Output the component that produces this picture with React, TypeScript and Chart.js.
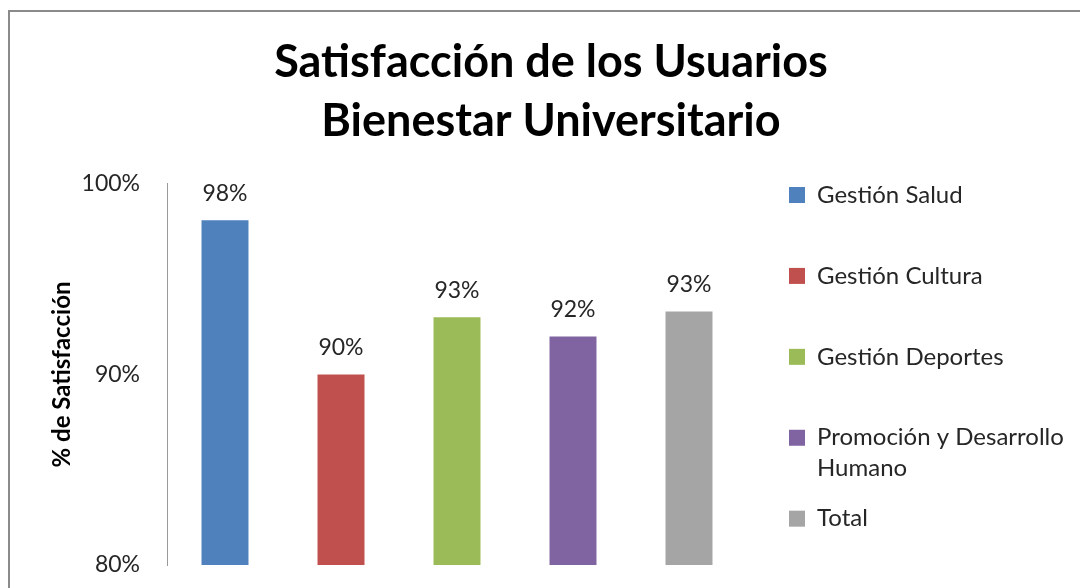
import React, { useEffect, useRef } from 'react';
import { Chart, registerables } from 'chart.js';

Chart.register(...registerables);

// ---- data ----
const categories = ['Gestión Salud', 'Gestión Cultura', 'Gestión Deportes', 'Promoción y Desarrollo Humano', 'Total'];
const legendLines: (string | string[])[] = [
  ['Gestión Salud', ''],
  ['Gestión Cultura', ''],
  ['Gestión Deportes', ''],
  ['Promoción y Desarrollo', 'Humano'],
  'Total',
];
const satisfaction = [98.1, 90, 93, 92, 93.3];
const barColors = ['#4F81BD', '#C0504D', '#9BBB59', '#8064A2', '#A5A5A5'];
const yMin = 80;
const yMax = 100;
const yStep = 10;
const titleLines = ['Satisfacción de los Usuarios', 'Bienestar Universitario'];
const yAxisTitle = '% de Satisfacción';

const FONT = 'Lato, "Open Sans", sans-serif';

const valueLabels = {
  id: 'valueLabels',
  afterDatasetsDraw(chart: any) {
    const { ctx } = chart;
    const meta = chart.getDatasetMeta(0);
    ctx.save();
    ctx.font = `23px ${FONT}`;
    ctx.fillStyle = '#262626';
    ctx.textAlign = 'center';
    ctx.textBaseline = 'middle';
    meta.data.forEach((bar: any, i: number) => {
      ctx.fillText(Math.round(satisfaction[i]) + '%', bar.x, bar.y - 27);
    });
    ctx.restore();
  },
};

export default function App() {
  const ref = useRef<HTMLCanvasElement>(null);
  useEffect(() => {
    if (!ref.current) return;
    const chart = new Chart(ref.current, {
      type: 'bar',
      data: {
        labels: categories,
        datasets: [
          {
            label: 'Satisfacción',
            data: satisfaction,
            backgroundColor: barColors,
            borderWidth: 0,
            barPercentage: 0.405,
            categoryPercentage: 1,
          },
        ],
      },
      options: {
        responsive: false,
        animation: false,
        devicePixelRatio: 1,
        layout: { padding: { left: 32, right: 10, top: 0, bottom: 23 } },
        scales: {
          x: { display: false },
          y: {
            min: yMin,
            max: yMax,
            position: 'left',
            grid: { display: false, drawTicks: false },
            border: { display: true, color: '#9a9a9a', width: 1 },
            ticks: {
              stepSize: yStep,
              padding: 27,
              color: '#262626',
              font: { family: FONT, size: 23 },
              callback: (v: any) => v + '%',
            },
            title: {
              display: true,
              text: yAxisTitle,
              color: '#000',
              font: { family: FONT, size: 24, weight: 'bold', lineHeight: 1.2 },
              padding: { top: 15.6, bottom: 0 },
            },
            afterFit: (s: any) => {
              s.width = 135;
              s.paddingTop = 0;
              s.paddingBottom = 14;
            },
          },
          yR: {
            position: 'right',
            display: true,
            grid: { display: false, drawTicks: false },
            border: { display: false },
            ticks: { display: false },
            afterFit: (s: any) => {
              s.width = 23;
              s.paddingTop = 0;
              s.paddingBottom = 0;
            },
          },
        },
        plugins: {
          title: {
            display: true,
            text: titleLines,
            color: '#000',
            font: { family: FONT, size: 45, weight: 'bold', lineHeight: 1.333 },
            padding: { top: 32, bottom: 32 },
          },
          legend: {
            display: true,
            position: 'right',
            align: 'start',
            fullSize: true,
            maxWidth: 300,
            title: { display: true, text: '', padding: { top: 149.6, bottom: 0 }, font: { size: 12, lineHeight: 1.2 } },
            labels: {
              boxWidth: 16,
              boxHeight: 16,
              padding: 19,
              color: '#262626',
              font: { family: FONT, size: 24, lineHeight: 1.29 },
              generateLabels: () =>
                legendLines.map((text, i) => ({
                  text: text as any,
                  fillStyle: barColors[i],
                  strokeStyle: barColors[i],
                  lineWidth: 0,
                  fontColor: '#262626',
                  hidden: false,
                  index: i,
                  datasetIndex: 0,
                })),
            },
            onClick: () => {},
          },
          tooltip: { enabled: false },
        },
      },
      plugins: [valueLabels],
    });
    return () => chart.destroy();
  }, []);

  return (
    <div style={{ position: 'fixed', left: 0, top: 0, width: 1080, height: 588, overflow: 'hidden', background: '#fff' }}>
      <div
        style={{
          position: 'absolute',
          left: 8,
          top: 10,
          width: 1200,
          height: 700,
          border: '2px solid #8a8a8a',
          boxSizing: 'border-box',
        }}
      />
      <canvas ref={ref} width={1080} height={588} style={{ position: 'absolute', left: 0, top: 0, width: 1080, height: 588 }} />
    </div>
  );
}
